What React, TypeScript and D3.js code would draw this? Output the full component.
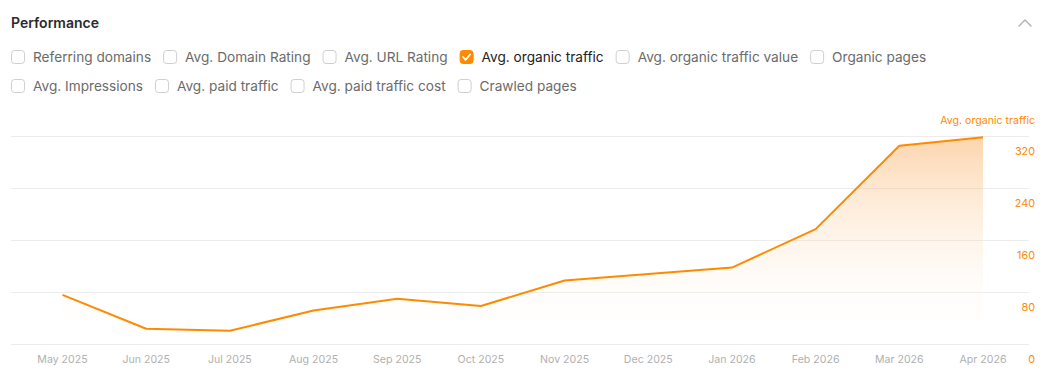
import React, { useEffect, useRef } from "react";
import * as d3 from "d3";

const months = [
  "May 2025", "Jun 2025", "Jul 2025", "Aug 2025", "Sep 2025", "Oct 2025",
  "Nov 2025", "Dec 2025", "Jan 2026", "Feb 2026", "Mar 2026", "Apr 2026",
];
const organicTraffic = [76, 24, 21, 52, 70, 59, 98, 108, 118, 177, 305, 318];
const yTicks = [0, 80, 160, 240, 320];

const metricsRow1 = [
  "Referring domains", "Avg. Domain Rating", "Avg. URL Rating",
  "Avg. organic traffic", "Avg. organic traffic value", "Organic pages",
];
const metricsRow2 = ["Avg. Impressions", "Avg. paid traffic", "Avg. paid traffic cost", "Crawled pages"];
const checkedMetric = "Avg. organic traffic";

const W = 1048;
const H = 373;
const FONT = "Inter, 'Noto Sans', sans-serif";
const ORANGE = "#ff8a00";

export default function App() {
  const svgRef = useRef<SVGSVGElement | null>(null);

  useEffect(() => {
    const svg = d3.select(svgRef.current);
    svg.selectAll("*").remove();

    // header
    svg.append("text")
      .attr("x", 11).attr("y", 28)
      .attr("font-family", FONT).attr("font-size", 14).attr("font-weight", 600)
      .attr("fill", "#2b2b2b")
      .text("Performance");

    svg.append("path")
      .attr("d", "M1019,26 L1025,20 L1031,26")
      .attr("fill", "none").attr("stroke", "#b0b0b0").attr("stroke-width", 1.4)
      .attr("stroke-linecap", "round").attr("stroke-linejoin", "round");

    // checkbox rows, laid out by measured label width
    const drawRow = (items: string[], cy: number) => {
      let x = 11;
      items.forEach((label) => {
        const checked = label === checkedMetric;
        const g = svg.append("g");
        g.append("rect")
          .attr("x", x + 0.5).attr("y", cy - 7 + 0.5)
          .attr("width", 13).attr("height", 13).attr("rx", 3)
          .attr("fill", checked ? ORANGE : "#fff")
          .attr("stroke", checked ? ORANGE : "#cfcfcf");
        if (checked) {
          g.append("path")
            .attr("d", `M${x + 3.5},${cy} L${x + 6},${cy + 2.8} L${x + 10.5},${cy - 2.5}`)
            .attr("fill", "none").attr("stroke", "#fff").attr("stroke-width", 1.8)
            .attr("stroke-linecap", "round").attr("stroke-linejoin", "round");
        }
        const t = g.append("text")
          .attr("x", x + 22).attr("y", cy + 5)
          .attr("font-family", FONT).attr("font-size", 13.65)
          .attr("fill", checked ? "#222" : "#6b6b6b")
          .text(label);
        const w = (t.node() as SVGTextElement).getComputedTextLength();
        x = x + 22 + w + 12;
      });
    };
    drawRow(metricsRow1, 57);
    drawRow(metricsRow2, 86);

    // chart
    const x = d3.scalePoint<string>().domain(months).range([62.5, 983]);
    const y = d3.scaleLinear().domain([0, 320]).range([344.4, 136]);

    const defs = svg.append("defs");
    const grad = defs.append("linearGradient")
      .attr("id", "areaGrad").attr("x1", 0).attr("x2", 0).attr("y1", 0).attr("y2", 1);
    grad.append("stop").attr("offset", "0%").attr("stop-color", "#fbb36a").attr("stop-opacity", 0.55);
    grad.append("stop").attr("offset", "100%").attr("stop-color", "#ffffff").attr("stop-opacity", 0);

    svg.append("g")
      .selectAll("line")
      .data(yTicks)
      .join("line")
      .attr("x1", 11).attr("x2", 1029)
      .attr("y1", (d) => Math.round(y(d)) + 0.5).attr("y2", (d) => Math.round(y(d)) + 0.5)
      .attr("stroke", "#ececec");

    svg.append("text")
      .attr("x", 1035).attr("y", 124)
      .attr("text-anchor", "end")
      .attr("font-family", FONT).attr("font-size", 10.6)
      .attr("fill", ORANGE)
      .text("Avg. organic traffic");

    const area = d3.area<number>()
      .x((_, i) => x(months[i])!)
      .y0(y(0))
      .y1((d) => y(d));
    svg.append("path")
      .datum(organicTraffic)
      .attr("d", area)
      .attr("fill", "url(#areaGrad)");

    const line = d3.line<number>()
      .x((_, i) => x(months[i])!)
      .y((d) => y(d));
    svg.append("path")
      .datum(organicTraffic)
      .attr("d", line)
      .attr("fill", "none")
      .attr("stroke", ORANGE)
      .attr("stroke-width", 2)
      .attr("stroke-linejoin", "round");

    svg.append("g")
      .selectAll("text")
      .data(yTicks)
      .join("text")
      .attr("x", 1035)
      .attr("y", (d) => y(d) + 19)
      .attr("text-anchor", "end")
      .attr("font-family", FONT).attr("font-size", 10.8)
      .attr("fill", ORANGE)
      .text((d) => String(d));

    svg.append("g")
      .selectAll("text")
      .data(months)
      .join("text")
      .attr("x", (d) => x(d)!)
      .attr("y", 363)
      .attr("text-anchor", "middle")
      .attr("font-family", FONT).attr("font-size", 10.6)
      .attr("fill", "#b0b0b0")
      .text((d) => d);
  }, []);

  return (
    <svg
      ref={svgRef}
      width={W}
      height={H}
      style={{ position: "absolute", left: 0, top: 0, background: "#fff" }}
    />
  );
}
